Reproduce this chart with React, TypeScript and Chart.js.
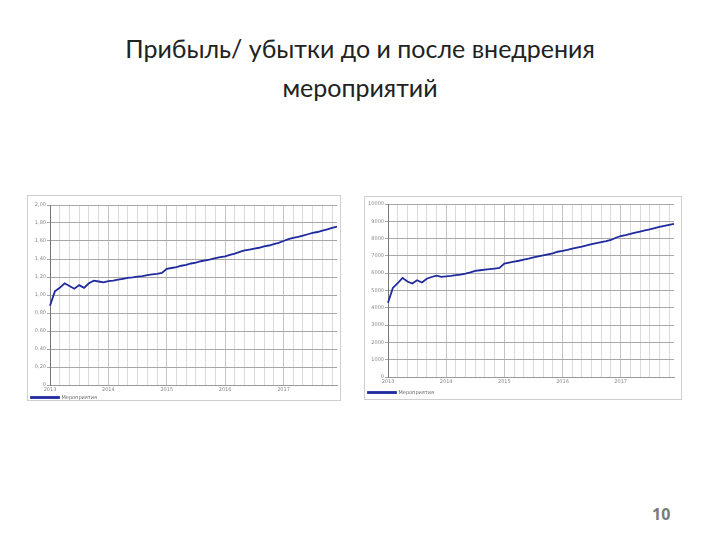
import React, { useEffect, useRef } from "react";
import { Chart, registerables } from "chart.js";
Chart.register(...registerables);

const years = ["2013", "2014", "2015", "2016", "2017"];
const monthNames = ["01", "02", "03", "04", "05", "06", "07", "08", "09", "10", "11", "12"];
const months = years.flatMap((y) => monthNames.map((m) => `${m}.${y}`));

const seriesName = "Мероприятия";

// before measures (left chart), units on the 0..2 scale
const beforeValues = [
  0.88, 1.04, 1.08, 1.13, 1.1, 1.07, 1.11, 1.08, 1.13, 1.16, 1.15, 1.14,
  1.155, 1.16, 1.17, 1.18, 1.19, 1.195, 1.205, 1.21, 1.22, 1.23, 1.235, 1.245,
  1.29, 1.3, 1.31, 1.325, 1.335, 1.35, 1.36, 1.375, 1.385, 1.395, 1.41, 1.42,
  1.43, 1.445, 1.46, 1.48, 1.495, 1.505, 1.515, 1.525, 1.54, 1.55, 1.565, 1.58,
  1.6, 1.62, 1.635, 1.645, 1.66, 1.675, 1.69, 1.7, 1.715, 1.73, 1.745, 1.76,
];

// after measures (right chart)
const afterValues = [
  4290, 5150, 5420, 5730, 5520, 5400, 5590, 5460, 5680, 5780, 5860, 5790,
  5820, 5850, 5890, 5920, 5980, 6050, 6130, 6170, 6210, 6240, 6270, 6300,
  6550, 6610, 6670, 6720, 6780, 6840, 6910, 6970, 7030, 7090, 7150, 7240,
  7290, 7350, 7420, 7480, 7540, 7610, 7680, 7740, 7800, 7850, 7920, 8050,
  8150, 8200, 8270, 8340, 8410, 8480, 8540, 8610, 8680, 8740, 8800, 8850,
];

const title1 = "Прибыль/ убытки до и после внедрения";
const title2 = "мероприятий";
const pageNumber = "10";

type Cfg = {
  values: number[];
  max: number;
  step: number;
  fmt: (v: number) => string;
  yWidth: number;
  padRight: number;
  padTop: number;
  padBottom: number;
  xHeight: number;
  w: number;
  h: number;
};

function MiniChart({ cfg }: { cfg: Cfg }) {
  const ref = useRef<HTMLCanvasElement | null>(null);
  useEffect(() => {
    if (!ref.current) return;
    const lineColor = "#1e2a9e";
    const chart = new Chart(ref.current, {
      type: "line",
      data: {
        labels: months,
        datasets: [
          {
            label: seriesName,
            data: cfg.values,
            borderColor: lineColor,
            backgroundColor: lineColor,
            borderWidth: 1.8,
            pointRadius: 0,
            tension: 0,
          },
        ],
      },
      options: {
        animation: false,
        responsive: false,
        maintainAspectRatio: false,
        layout: { padding: { left: 2, right: cfg.padRight, top: cfg.padTop, bottom: cfg.padBottom } },
        plugins: {
          title: { display: false },
          tooltip: { enabled: false },
          legend: {
            display: true,
            position: "bottom",
            align: "start",
            labels: {
              boxWidth: 28,
              boxHeight: 1,
              padding: 1,
              color: "#666",
              font: { size: 5, family: "DejaVu Sans", lineHeight: 1 },
            },
          },
        },
        scales: {
          x: {
            type: "category",
            offset: false,
            afterFit: (axis: any) => {
              axis.height = cfg.xHeight;
            },
            grid: {
              drawTicks: false,
              color: (ctx: any) =>
                ctx.index % 12 === 0 ? "#c4c4c4" : ctx.index % 2 === 0 ? "#dadada" : "rgba(0,0,0,0)",
              lineWidth: 1,
            },
            border: { display: true, color: "#9a9a9a" },
            ticks: {
              autoSkip: false,
              maxRotation: 0,
              minRotation: 0,
              padding: 2,
              color: "#888",
              font: { size: 5, family: "DejaVu Sans" },
              callback: (_v: any, i: number) => (i % 12 === 0 ? years[i / 12] : ""),
            },
          },
          y: {
            min: 0,
            max: cfg.max,
            afterFit: (axis: any) => {
              axis.width = cfg.yWidth;
            },
            grid: { color: "#a8a8a8", lineWidth: 1, drawTicks: true, tickLength: 3 },
            border: { display: true, color: "#777" },
            ticks: {
              stepSize: cfg.step,
              padding: 1,
              color: "#888",
              font: { size: 5, family: "DejaVu Sans" },
              callback: (v: any) => cfg.fmt(Number(v)),
            },
          },
        },
      },
    });
    return () => chart.destroy();
  }, [cfg]);
  return <canvas ref={ref} width={cfg.w} height={cfg.h} style={{ display: "block" }} />;
}

const leftCfg: Cfg = {
  values: beforeValues,
  max: 2,
  step: 0.2,
  fmt: (v) => (v === 0 ? "0" : v.toFixed(2).replace(".", ",")),
  yWidth: 20,
  padRight: 3,
  padTop: 9,
  padBottom: -10,
  xHeight: 9,
  w: 312,
  h: 204,
};

const rightCfg: Cfg = {
  values: afterValues,
  max: 10000,
  step: 1000,
  fmt: (v) => String(Math.round(v)),
  yWidth: 21,
  padRight: 7,
  padTop: 7,
  padBottom: -6,
  xHeight: 12,
  w: 316,
  h: 202,
};

export default function App() {
  return (
    <div
      style={{
        position: "absolute",
        left: 0,
        top: 0,
        width: 720,
        height: 540,
        background: "#fff",
        overflow: "hidden",
      }}
    >
      <div
        style={{
          position: "absolute",
          left: 0,
          top: 29,
          width: 720,
          textAlign: "center",
          fontFamily: "Lato, 'Open Sans', sans-serif",
          fontSize: 25,
          lineHeight: "39px",
          color: "#222",
        }}
      >
        <div>{title1}</div>
        <div>{title2}</div>
      </div>
      <div
        style={{
          position: "absolute",
          left: 27,
          top: 195,
          width: 312,
          height: 204,
          border: "1px solid #cfcfcf",
        }}
      >
        <MiniChart cfg={leftCfg} />
      </div>
      <div
        style={{
          position: "absolute",
          left: 364,
          top: 196,
          width: 316,
          height: 202,
          border: "1px solid #cfcfcf",
        }}
      >
        <MiniChart cfg={rightCfg} />
      </div>
      <div
        style={{
          position: "absolute",
          left: 652,
          top: 503,
          fontFamily: "'Open Sans', sans-serif",
          fontWeight: 700,
          fontSize: 16,
          color: "#7a7a7a",
        }}
      >
        {pageNumber}
      </div>
    </div>
  );
}
